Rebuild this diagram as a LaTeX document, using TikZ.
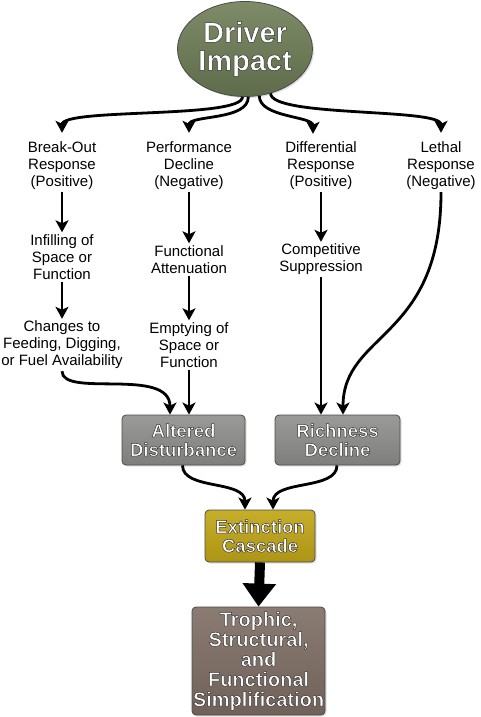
\documentclass[tikz,border=0pt]{standalone}
\usepackage{fontspec}
\setmainfont{Liberation Sans}
\usetikzlibrary{shapes.geometric,arrows.meta,shadows}
\definecolor{drvgreen}{HTML}{6E7B58}
\definecolor{drvgreenT}{HTML}{7E8B68}
\definecolor{drvgreenB}{HTML}{5F6C4B}
\definecolor{grayT}{HTML}{9A9A98}
\definecolor{grayB}{HTML}{7E7E7C}
\definecolor{goldT}{HTML}{C6AE2A}
\definecolor{goldB}{HTML}{AD9515}
\definecolor{brownT}{HTML}{8A7B73}
\definecolor{brownB}{HTML}{716259}
\definecolor{edgedark}{HTML}{4A4A48}
\newcommand{\outl}[1]{\special{pdf:literal direct 2 Tr 0.5 w 0.2 0.2 0.2 RG}#1\special{pdf:literal direct 0 Tr}}
\tikzset{
  txt/.style={align=center, inner sep=2pt, font=\fontsize{15}{17}\selectfont},
  boxnode/.style={rounded corners=4pt, draw=edgedark, line width=0.8pt, align=center,
    text=white, font=\fontsize{18.5}{19}\selectfont\bfseries, inner sep=0pt,
    drop shadow={opacity=0.25, shadow xshift=1.5pt, shadow yshift=-1.5pt}},
  arr/.style={line width=2.8pt, -{Stealth[length=12pt,width=13pt,inset=3pt]}},
  bigarr/.style={line width=10pt, -{Triangle[length=23pt,width=32pt]}}
}
\begin{document}
\begin{tikzpicture}[x=1pt,y=-1pt]
\useasboundingbox (0,0) rectangle (480,717);
% top ellipse
\node[ellipse, top color=drvgreenT, bottom color=drvgreenB, draw=edgedark, line width=0.8pt, minimum width=135pt, minimum height=95pt,
  drop shadow={opacity=0.25, shadow xshift=1.5pt, shadow yshift=-1.5pt},
  inner sep=0pt, align=center, text=white, font=\fontsize{29}{28}\selectfont\bfseries] (drv) at (245,49) {\outl{Driver\\Impact}};
% first row
\node[txt] (bo) at (62,166) {Break-Out\\Response\\(Positive)};
\node[txt] (pd) at (189,166) {Performance\\Decline\\(Negative)};
\node[txt] (dr) at (321,166) {Differential\\Response\\(Positive)};
\node[txt] (le) at (441,166) {Lethal\\Response\\(Negative)};
% second row
\node[txt] (in) at (62,257) {Infilling of\\Space or\\Function};
\node[txt] (fa) at (189,259.5) {Functional\\Attenuation};
\node[txt] (cs) at (321,259.5) {Competitive\\Suppression};
% third row
\node[txt] (ch) at (62,345) {Changes to\\Feeding, Digging,\\or Fuel Availability};
\node[txt] (em) at (189,345) {Emptying of\\Space or\\Function};
% boxes
\node[boxnode, top color=grayT, bottom color=grayB, minimum width=123pt, minimum height=50pt] (ad) at (183.5,440) {\outl{Altered\\Disturbance}};
\node[boxnode, top color=grayT, bottom color=grayB, minimum width=125pt, minimum height=50pt] (rd) at (337.5,440) {\outl{Richness\\Decline}};
\node[boxnode, top color=goldT, bottom color=goldB, minimum width=110pt, minimum height=52pt] (ec) at (260,536) {\outl{Extinction\\Cascade}};
\node[boxnode, top color=brownT, bottom color=brownB, minimum width=133pt, minimum height=108pt, font=\fontsize{20}{20}\selectfont\bfseries] (bt) at (258.5,661) {\outl{Trophic,\\Structural,\\and\\Functional\\Simplification}};
% arrows from ellipse
\draw[arr] (drv.-93) .. controls +(0,22) and +(0,-25) .. ([yshift=7pt]bo.north);
\draw[arr] (drv.-86) .. controls +(0,24) and +(0,-18) .. ([yshift=7pt]pd.north);
\draw[arr] (drv.-73) .. controls +(0,22) and +(0,-18) .. ([xshift=-8pt,yshift=6pt]dr.north);
\draw[arr] (drv.-60) .. controls +(0,24) and +(0,-25) .. ([yshift=7pt]le.north);
% vertical arrows
\draw[arr] (bo.south) -- (in.north);
\draw[arr] (in.south) -- (ch.north);
\draw[arr] (pd.south) -- (fa.north);
\draw[arr] (fa.south) -- (em.north);
\draw[arr] (dr.south) -- (cs.north);
\draw[arr] (em.south) -- (em.south |- ad.north);
\draw[arr] (cs.south) -- (cs.south |- rd.north);
\draw[arr] (ch.south) .. controls +(0,27) and +(0,-48) .. ([xshift=-13.5pt]ad.north);
\draw[arr] (le.south) .. controls +(0,148) and +(0,-83) .. ([xshift=5.5pt]rd.north);
% to extinction cascade
\draw[arr] ([xshift=-1pt]ad.south) .. controls +(0,25) and +(0,-30) .. ([xshift=-15pt]ec.north);
\draw[arr] ([xshift=-0.5pt]rd.south) .. controls +(0,25) and +(0,-30) .. ([xshift=13pt]ec.north);
% big arrow
\draw[bigarr] (ec.south) -- (bt.north);
\end{tikzpicture}
\end{document}
